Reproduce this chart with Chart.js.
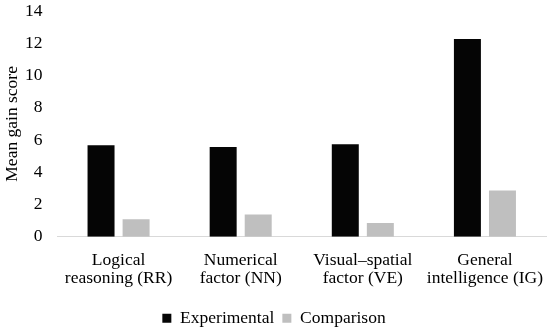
<!DOCTYPE html>
<html><head><meta charset="utf-8">
<script src="https://cdn.jsdelivr.net/npm/chart.js@4"></script>
<style>html,body{margin:0;padding:0;background:#fff}#wrap{width:550px;height:330px}</style>
</head><body><div id="wrap"><canvas id="c"></canvas></div>
<script>
const categories = [["Logical","reasoning (RR)"],["Numerical","factor (NN)"],["Visual\u2013spatial","factor (VE)"],["General","intelligence (IG)"]];
const experimental = [5.67, 5.57, 5.74, 12.27];
const comparison = [1.08, 1.38, 0.86, 2.87];
const yTicks = [0, 2, 4, 6, 8, 10, 12, 14];
const seriesNames = ["Experimental", "Comparison"];

const FONT = "'Liberation Serif', serif";
new Chart(document.getElementById('c'), {
  type: 'bar',
  data: {
    labels: categories,
    datasets: [
      {label: seriesNames[0], data: experimental, backgroundColor: '#050505', categoryPercentage: 0.574, barPercentage: 0.77},
      {label: seriesNames[1], data: comparison, backgroundColor: '#bfbfbf', categoryPercentage: 0.574, barPercentage: 0.77}
    ]
  },
  options: {
    responsive: true, maintainAspectRatio: false, animation: false,
    layout: {padding: {top: 11, right: 4, left: 2, bottom: -7}},
    plugins: {
      tooltip: {enabled: false},
      legend: {position: 'bottom', labels: {font: {family: FONT, size: 17.5}, color: '#000', boxWidth: 9, boxHeight: 9, padding: 8}}
    },
    scales: {
      x: {
        afterFit: (s) => { s.paddingLeft = 0; s.paddingRight = 0; },
        grid: {display: false, drawTicks: false},
        border: {color: '#d9d9d9', width: 1},
        ticks: {font: {family: FONT, size: 17.5, lineHeight: 1.05}, color: '#000', padding: 14, maxRotation: 0, autoSkip: false}
      },
      y: {
        min: 0, max: 14,
        afterBuildTicks: (ax) => { ax.ticks = yTicks.map(v => ({value: v})); },
        afterFit: (s) => { s.paddingTop = 0; s.paddingBottom = 0; s.width -= 15; },
        grid: {display: false, drawTicks: false},
        border: {display: false},
        ticks: {font: {family: FONT, size: 17.5}, color: '#000', padding: 15},
        title: {display: true, text: 'Mean gain score', font: {family: FONT, size: 17.5}, color: '#000', padding: {top: 0, bottom: 2}}
      }
    }
  }
});
</script></body></html>
